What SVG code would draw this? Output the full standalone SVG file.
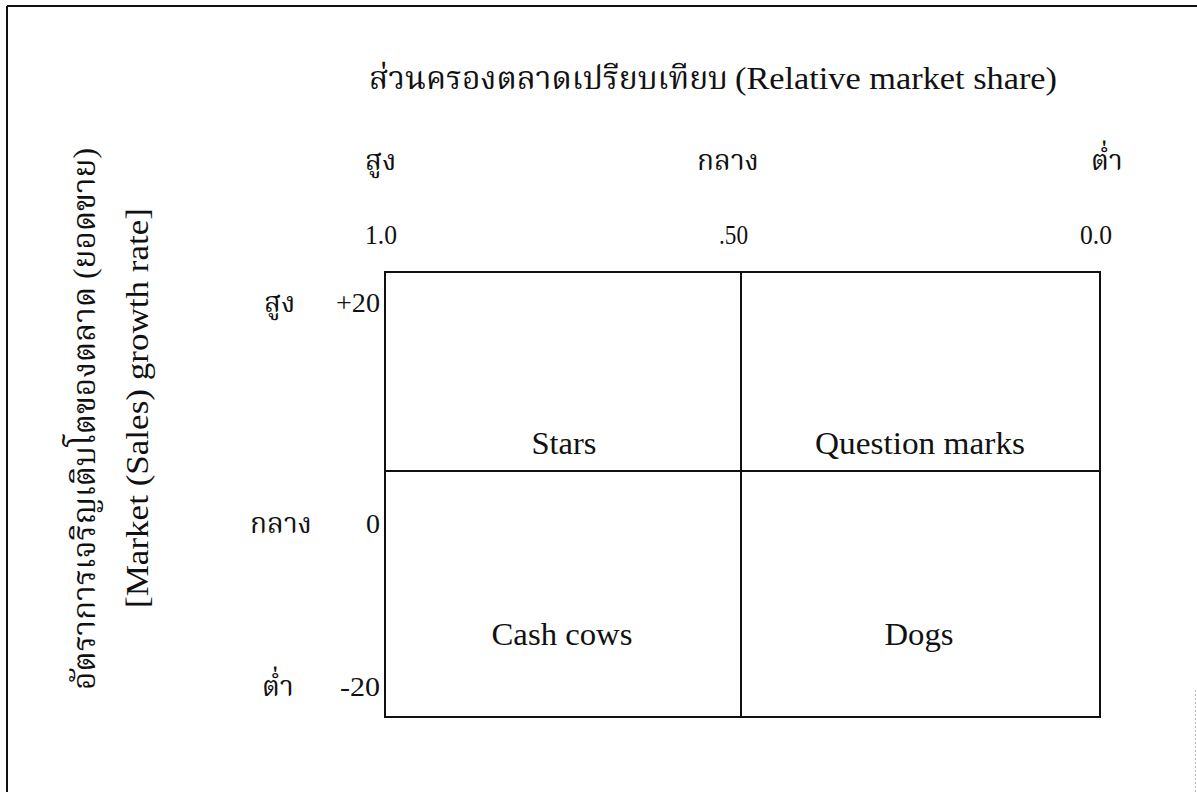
<svg xmlns="http://www.w3.org/2000/svg" width="1197" height="792" viewBox="0 0 1197 792">
<style>
text{font-family:"Liberation Serif","Noto Serif Thai","Noto Sans Thai","Tlwg Typo",serif;fill:#111}
.t{font-size:32px}
.a{font-size:28px}
.q{font-size:32px;text-anchor:middle}
.g{stroke:#111;stroke-width:2;fill:none}
</style>
<rect width="1197" height="792" fill="#fff"/>
<g id="frame">
<line class="g" x1="7" y1="6" x2="1197" y2="6"/>
<line class="g" x1="7" y1="6" x2="7" y2="792"/>
<line x1="1195.5" y1="690" x2="1195.5" y2="792" stroke="#bbb" stroke-width="1" stroke-dasharray="2 2"/>
</g>
<g id="title">
<text class="t" x="369" y="89" textLength="359" lengthAdjust="spacingAndGlyphs">ส่วนครองตลาดเปรียบเทียบ</text>
<text class="t" x="735" y="89" textLength="322" lengthAdjust="spacingAndGlyphs">(Relative market share)</text>
</g>
<g id="x-axis-labels">
<text class="a" x="365" y="170">สูง</text>
<text class="a" x="697" y="170">กลาง</text>
<text class="a" x="1091" y="170">ต่ำ</text>
<text class="a" x="365" y="244" textLength="32" lengthAdjust="spacingAndGlyphs">1.0</text>
<text class="a" x="719" y="244" textLength="29" lengthAdjust="spacingAndGlyphs">.50</text>
<text class="a" x="1080" y="244" textLength="32" lengthAdjust="spacingAndGlyphs">0.0</text>
</g>
<g id="y-axis-labels">
<text class="a" x="264" y="312">สูง</text>
<text class="a" x="336" y="312" textLength="44" lengthAdjust="spacingAndGlyphs">+20</text>
<text class="a" x="250" y="533">กลาง</text>
<text class="a" x="366" y="533">0</text>
<text class="a" x="262" y="696">ต่ำ</text>
<text class="a" x="340" y="696" textLength="40" lengthAdjust="spacingAndGlyphs">-20</text>
</g>
<g id="y-title">
<text class="t" transform="translate(95,419) rotate(-90)" text-anchor="middle" textLength="542" lengthAdjust="spacingAndGlyphs">อัตราการเจริญเติบโตของตลาด (ยอดขาย)</text>
<text class="t" transform="translate(148,408) rotate(-90)" text-anchor="middle" textLength="400" lengthAdjust="spacingAndGlyphs">[Market (Sales) growth rate]</text>
</g>
<g id="connectors">
<rect class="g" x="385" y="272" width="715" height="445"/>
<line class="g" x1="741" y1="272" x2="741" y2="717"/>
<line class="g" x1="385" y1="471" x2="1100" y2="471"/>
</g>
<g id="stars"><text class="q" x="564" y="454" textLength="65" lengthAdjust="spacingAndGlyphs">Stars</text></g>
<g id="question-marks"><text class="q" x="920" y="454" textLength="210" lengthAdjust="spacingAndGlyphs">Question marks</text></g>
<g id="cash-cows"><text class="q" x="562" y="645" textLength="141" lengthAdjust="spacingAndGlyphs">Cash cows</text></g>
<g id="dogs"><text class="q" x="919" y="645" textLength="69" lengthAdjust="spacingAndGlyphs">Dogs</text></g>
</svg>
